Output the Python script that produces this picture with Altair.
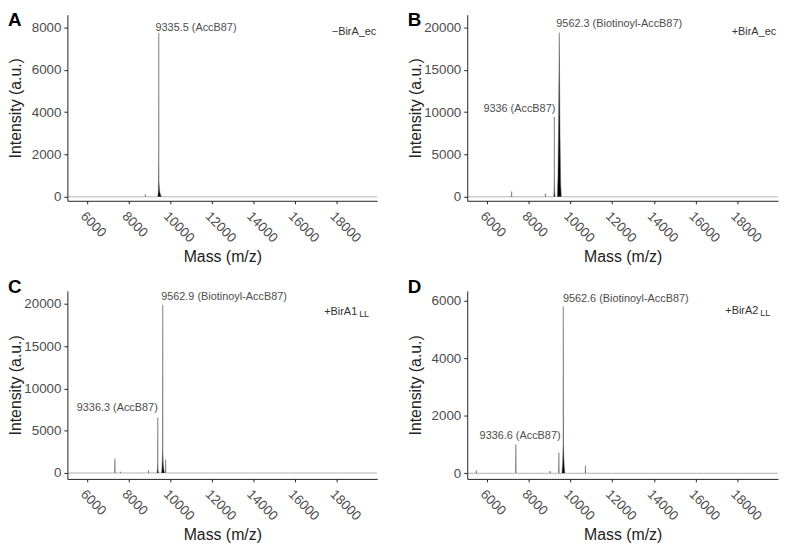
import altair as alt
import pandas as pd

FONT = "Liberation Sans"
X_DOMAIN = [5050, 19950]
X_TICKS = [6000, 8000, 10000, 12000, 14000, 16000, 18000]

# ---------------- Panel A (-BirA_ec)
A_mass = [5050, 8788, 8798, 8808, 9395, 9420, 9434, 9440, 9445, 9450, 9458, 9475, 9500, 9540, 9580, 19950]
A_int = [0, 0, 120, 0, 0, 200, 700, 1700, 7750, 1600, 700, 400, 200, 80, 0, 0]
A_ann_text = ["9335.5 (AccB87)"]
A_ann_mass = [9288]
A_ann_int = [8000]

# ---------------- Panel B (+BirA_ec)
B_mass = [5050, 7169, 7179, 7189, 8788, 8798, 8808, 9200, 9214, 9222, 9226, 9230, 9240, 9260,
          9370, 9400, 9430, 9452, 9464, 9476, 9500, 9530, 9560, 19950]
B_int = [0, 0, 640, 0, 0, 380, 0, 0, 900, 3000, 9450, 2200, 600, 0,
         0, 2500, 9000, 16000, 19400, 15000, 7000, 1500, 0, 0]
B_ann_text = ["9562.3 (Biotinoyl-AccB87)", "9336 (AccB87)"]
B_ann_mass = [9321, 9274]
B_ann_int = [20420, 10330]

# ---------------- Panel C (+BirA1_LL)
C_mass = [5050, 7326, 7336, 7346, 7590, 7600, 7610, 8945, 8955, 8965, 9360, 9380, 9392, 9398, 9404, 9415, 9440,
          9580, 9600, 9615, 9628, 9636, 9644, 9655, 9670, 9690, 9720, 9769, 9779, 9789, 19950]
C_int = [0, 0, 1700, 0, 0, 150, 0, 0, 300, 0, 0, 500, 1300, 6550, 1000, 300, 0,
         0, 600, 1500, 3000, 19900, 2500, 1600, 900, 400, 0, 0, 1600, 0, 0]
C_ann_text = ["9562.9 (Biotinoyl-AccB87)", "9336.3 (AccB87)"]
C_ann_mass = [9560, 9398]
C_ann_int = [20780, 7660]

# ---------------- Panel D (+BirA2_LL)
D_mass = [5050, 5469, 5479, 5489, 7373, 7383, 7393, 9007, 9017, 9027, 9435, 9445, 9455,
          9590, 9610, 9630, 9645, 9655, 9665, 9680, 9700, 9730, 10707, 10717, 10727, 19950]
D_int = [0, 0, 100, 0, 0, 1000, 0, 0, 80, 0, 0, 720, 0,
         0, 200, 500, 1000, 5800, 1050, 600, 250, 0, 0, 270, 0, 0]
D_ann_text = ["9562.6 (Biotinoyl-AccB87)", "9336.6 (AccB87)"]
D_ann_mass = [9636, 9526]
D_ann_int = [6068, 1313]

# condition labels
COND_TEXT = ["\u2212BirA_ec", "+BirA_ec", "+BirA1", "+BirA2"]
COND_SUB = ["", "", "LL", "LL"]
COND_MASS = [19907, 19860, 19560, 19574]
COND_INT = [7794, 19485, 19070, 5633]

LETTERS = ["A", "B", "C", "D"]
LETTER_Y = [-4, -4, -13, -13]
Y_DOMAINS = [[-187, 8608], [-470, 21520], [-700, 21550], [-195, 6343]]
Y_MAJOR = [2000, 5000, 5000, 1000]
Y_MINOR = [1000, 2500, 2500, 500]
Y_MAX_TICK = [8000, 20000, 20000, 6000]
WIDTHS = [313, 314, 313, 314]
HEIGHTS = [188, 188, 190, 190]

AXIS_STYLE = dict(
    labelFont=FONT, titleFont=FONT, labelFontSize=13.5, titleFontSize=16,
    labelColor="#4d4d4d", titleColor="#222222", titleFontWeight="normal",
    domainColor="#222222", tickColor="#222222", domainWidth=1, tickWidth=1, grid=False,
)


def panel(i, mass, inten, ann_text, ann_mass, ann_int):
    spec = pd.DataFrame({"mass": mass, "intensity": inten})
    major, minor, top = Y_MAJOR[i], Y_MINOR[i], Y_MAX_TICK[i]
    yvals = list(range(0, top + 1, minor))
    x_enc = alt.X(
        "mass:Q",
        scale=alt.Scale(domain=X_DOMAIN, nice=False, zero=False),
        axis=alt.Axis(
            values=X_TICKS, format="d", labelAngle=45, labelAlign="left", labelBaseline="top",
            tickSize=3, labelPadding=5, titlePadding=4, **AXIS_STYLE,
        ),
        title="Mass (m/z)",
    )
    y_enc = alt.Y(
        "intensity:Q",
        scale=alt.Scale(domain=Y_DOMAINS[i], nice=False, zero=False),
        axis=alt.Axis(
            values=yvals, format="d",
            labelExpr=f"datum.value % {major} == 0 ? datum.label : ''",
            tickSize={"condition": {"test": f"datum.value % {major} != 0", "value": 2}, "value": 3.5},
            labelPadding=3, titlePadding=4, minExtent=40, maxExtent=40, **AXIS_STYLE,
        ),
        title="Intensity (a.u.)",
    )
    area = alt.Chart(spec).mark_area(color="black", opacity=1, strokeWidth=0).encode(
        x=x_enc, y=y_enc, y2=alt.datum(0)
    )
    line = alt.Chart(spec).mark_line(color="#666666", strokeWidth=0.5).encode(x="mass:Q", y="intensity:Q")

    layers = [area, line]
    for j, (t, m, v) in enumerate(zip(ann_text, ann_mass, ann_int)):
        align = "left" if (j == 0) else "right"
        d = pd.DataFrame({"mass": [m], "intensity": [v], "label": [t]})
        layers.append(
            alt.Chart(d).mark_text(align=align, baseline="middle", fontSize=11, font=FONT, color="#4d4d4d")
            .encode(x="mass:Q", y="intensity:Q", text="label:N")
        )
    cd = pd.DataFrame({"mass": [COND_MASS[i]], "intensity": [COND_INT[i]],
                       "label": [COND_TEXT[i]], "sub": [COND_SUB[i]]})
    dx = -12 if COND_SUB[i] else 0
    layers.append(
        alt.Chart(cd).mark_text(align="right", baseline="middle", fontSize=11, font=FONT,
                                color="#333333", dx=dx)
        .encode(x="mass:Q", y="intensity:Q", text="label:N")
    )
    if COND_SUB[i]:
        layers.append(
            alt.Chart(cd).mark_text(align="right", baseline="middle", fontSize=9, font=FONT,
                                    color="#333333", dy=2)
            .encode(x="mass:Q", y="intensity:Q", text="sub:N")
        )
    ld = pd.DataFrame({"letter": [LETTERS[i]]})
    layers.append(
        alt.Chart(ld).mark_text(align="left", baseline="top", fontSize=19, fontWeight="bold",
                                font=FONT, color="black")
        .encode(x=alt.value(-60), y=alt.value(LETTER_Y[i]), text="letter:N")
    )
    return alt.layer(*layers).properties(width=WIDTHS[i], height=HEIGHTS[i])


pA = panel(0, A_mass, A_int, A_ann_text, A_ann_mass, A_ann_int)
pB = panel(1, B_mass, B_int, B_ann_text, B_ann_mass, B_ann_int)
pC = panel(2, C_mass, C_int, C_ann_text, C_ann_mass, C_ann_int)
pD = panel(3, D_mass, D_int, D_ann_text, D_ann_mass, D_ann_int)

chart = alt.concat(pA, pB, pC, pD, columns=2, spacing={"row": 13, "column": 30}).properties(
    padding=0, background="white"
).configure_view(stroke=None)

chart.save("out.html", embed_options={"renderer": "svg", "actions": False})
